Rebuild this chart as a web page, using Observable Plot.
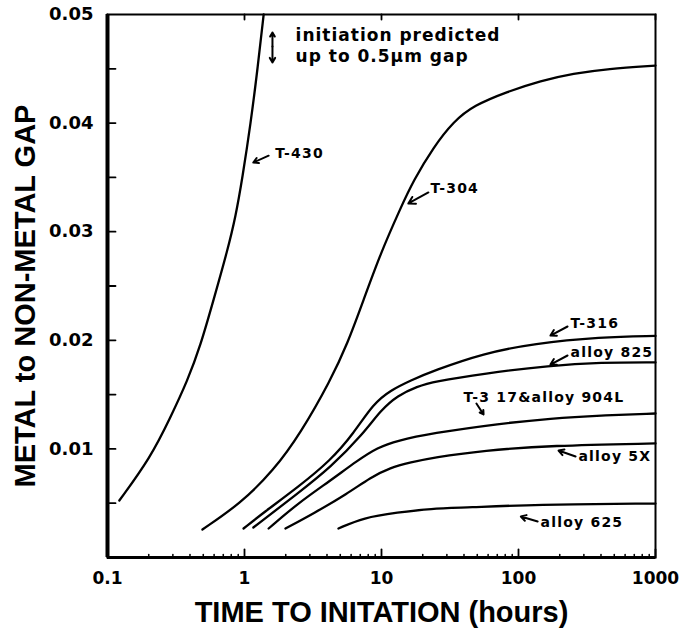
<!DOCTYPE html>
<html>
<head>
<meta charset="utf-8">
<script src="https://cdn.jsdelivr.net/npm/d3@7"></script>
<script src="https://cdn.jsdelivr.net/npm/@observablehq/plot@0.6"></script>
<style>
  html, body { margin: 0; padding: 0; background: #fff; }
</style>
</head>
<body>
<div id="chart"></div>
<script>
// ---- data ----
const xDomain = [0.1, 1000];
const yDomain = [0, 0.05];
const xTicks = [0.1, 1, 10, 100, 1000];
const yTicks = [0.01, 0.02, 0.03, 0.04, 0.05];
const yMinorTicks = [0.005, 0.01, 0.015, 0.02, 0.025, 0.03, 0.035, 0.04, 0.045];
const xMinorTicks = [0.2,0.3,0.4,0.5,0.6,0.7,0.8,0.9, 2,3,4,5,6,7,8,9, 20,30,40,50,60,70,80,90, 200,300,400,500,600,700,800,900];

const t430X = [0.122, 0.206, 0.288, 0.384, 0.477, 0.594, 0.752, 0.859, 0.967, 1.11, 1.24, 1.38];
const t430Y = [0.00525, 0.0092, 0.0129, 0.0163, 0.0195, 0.0237, 0.0283, 0.0313, 0.0350, 0.0400, 0.0448, 0.0500];

const t304X = [0.493, 0.935, 1.63, 2.56, 4.24, 5.65, 7.39, 9.84, 13.8, 17.1, 24.0, 33.6, 47.0, 83.2, 145, 252, 447, 1000];
const t304Y = [0.00258, 0.00497, 0.00801, 0.01142, 0.0163, 0.0197, 0.0237, 0.0280, 0.0322, 0.0347, 0.0378, 0.04015, 0.04162, 0.0429, 0.0439, 0.04457, 0.0450, 0.0453];

const t316X = [0.984, 1.38, 2.44, 4.25, 6.25, 8.75, 11.6, 16.3, 24.0, 55.6, 129, 397, 1000];
const t316Y = [0.00267, 0.00414, 0.00645, 0.00893, 0.01142, 0.01418, 0.01538, 0.0163, 0.0172, 0.0188, 0.0197, 0.0203, 0.0204];

const a825X = [1.16, 2.44, 4.25, 7.39, 9.84, 13.1, 18.3, 24.0, 55.6, 171, 397, 1000];
const a825Y = [0.00276, 0.00589, 0.00829, 0.01142, 0.01354, 0.01492, 0.01575, 0.0162, 0.01694, 0.01768, 0.01796, 0.01796];

const t317X = [1.50, 2.44, 4.25, 6.68, 9.35, 13.1, 22.8, 74.0, 171, 397, 1000];
const t317Y = [0.00267, 0.00497, 0.00709, 0.00893, 0.01013, 0.01077, 0.01142, 0.01234, 0.0128, 0.01308, 0.01326];

const a5xX = [1.99, 3.19, 5.65, 8.32, 11.6, 16.3, 24.0, 55.6, 171, 1000];
const a5xY = [0.00267, 0.00405, 0.00589, 0.00737, 0.00829, 0.00875, 0.00921, 0.00985, 0.01031, 0.0105];

const a625X = [4.85, 7.39, 13.1, 22.8, 42.5, 129, 1000];
const a625Y = [0.00267, 0.00368, 0.00414, 0.00451, 0.0046, 0.00488, 0.00497];

const seriesNames = ["T-430", "T-304", "T-316", "alloy 825", "T-317&alloy 904L", "alloy 5X", "alloy 625"];
const seriesXs = [t430X, t304X, t316X, a825X, t317X, a5xX, a625X];
const seriesYs = [t430Y, t304Y, t316Y, a825Y, t317Y, a5xY, a625Y];

// annotation labels (data coordinates)
const noteTexts = ["initiation predicted", "up to 0.5µm gap"];
const noteX = [2.36, 2.36];
const noteY = [0.04807, 0.04613];
const labelTexts = ["T-430", "T-304", "T-316", "alloy 825", "T-3 17&alloy 904L", "alloy 5X", "alloy 625"];
const labelX = [1.68, 22.8, 240, 240, 39.7, 274, 145];
const labelY = [0.0372, 0.03398, 0.02155, 0.01888, 0.01473, 0.0093, 0.00322];

// annotation arrows (data coordinates)
const arrowX1 = [1.60, 1.60, 1.50, 22.0, 228, 228, 49.3, 261, 138];
const arrowY1 = [0.04705, 0.04705, 0.0370, 0.03361, 0.02127, 0.0186, 0.01418, 0.0093, 0.00331];
const arrowX2 = [1.60, 1.60, 1.16, 15.7, 171, 171, 55.6, 196, 104];
const arrowY2 = [0.04834, 0.04558, 0.03637, 0.0326, 0.02044, 0.01777, 0.01317, 0.00985, 0.00378];

// ---- tables built from the arrays ----
const curves = seriesNames.flatMap((name, s) => seriesXs[s].map((x, i) => ({series: name, x, y: seriesYs[s][i]})));
const notes = noteTexts.map((t, i) => ({text: t, x: noteX[i], y: noteY[i]}));
const labels = labelTexts.map((t, i) => ({text: t, x: labelX[i], y: labelY[i]}));
const arrows = arrowX1.map((x1, i) => ({x1, y1: arrowY1[i], x2: arrowX2[i], y2: arrowY2[i]}));

const lineShape = { draw(ctx, l) { ctx.moveTo(0, 0); ctx.lineTo(0, -l); } };
const tickFont = "DejaVu Sans, sans-serif";
const titleFont = "Liberation Sans, Arial, sans-serif";

const chart = Plot.plot({
  width: 692,
  height: 629,
  marginLeft: 107,
  marginRight: 37,
  marginTop: 14,
  marginBottom: 72,
  style: { fontFamily: tickFont, fontWeight: "bold", color: "#000", background: "#fff" },
  x: { type: "log", domain: xDomain },
  y: { type: "linear", domain: yDomain },
  marks: [
    // frame
    Plot.frame({ stroke: "#000", strokeWidth: 2 }),
    Plot.ruleX([xDomain[0]], { stroke: "#000", strokeWidth: 4 }),
    Plot.ruleY([yDomain[0]], { stroke: "#000", strokeWidth: 3 }),
    // inward ticks
    Plot.vector(yMinorTicks, { x: xDomain[0], y: d => d, length: 8, rotate: 90, anchor: "start", shape: lineShape, stroke: "#000", strokeWidth: 1.8 }),
    Plot.vector(xTicks, { x: d => d, y: yDomain[0], length: 8, rotate: 0, anchor: "start", shape: lineShape, stroke: "#000", strokeWidth: 1.8 }),
    Plot.vector(xMinorTicks, { x: d => d, y: yDomain[0], length: 3, rotate: 0, anchor: "start", shape: lineShape, stroke: "#000", strokeWidth: 1.5 }),
    Plot.vector(xTicks, { x: d => d, y: yDomain[1], length: 5, rotate: 180, anchor: "start", shape: lineShape, stroke: "#000", strokeWidth: 1.8 }),
    // tick labels
    Plot.axisY({ ticks: yTicks, tickSize: 0, tickPadding: 14, tickFormat: d3.format(".2f"), fontSize: 18, fontFamily: tickFont, fontWeight: "bold", label: null }),
    Plot.axisX({ ticks: xTicks, tickSize: 0, tickPadding: 14, tickFormat: d => String(d), fontSize: 17, fontFamily: tickFont, fontWeight: "bold", label: null }),
    // axis titles
    Plot.axisY({ ticks: [], tickSize: 0, label: "METAL to NON-METAL GAP", labelAnchor: "center", labelArrow: "none", labelOffset: 93, fontSize: 29, fontFamily: titleFont, fontWeight: "bold" }),
    Plot.axisX({ ticks: [], tickSize: 0, label: "TIME TO INITATION (hours)", labelAnchor: "center", labelArrow: "none", labelOffset: 64, fontSize: 29, fontFamily: titleFont, fontWeight: "bold" }),
    // curves
    Plot.line(curves, { x: "x", y: "y", z: "series", stroke: "#000", strokeWidth: 2.3, curve: "basis" }),
    // annotations
    Plot.arrow(arrows, { x1: "x1", y1: "y1", x2: "x2", y2: "y2", stroke: "#000", strokeWidth: 2, headLength: 6, bend: 0 }),
    Plot.text(notes, { x: "x", y: "y", text: "text", fontSize: 17, textAnchor: "start", lineAnchor: "middle", fill: "#000", fontFamily: tickFont, fontWeight: "bold" }),
    Plot.text(labels, { x: "x", y: "y", text: "text", fontSize: 14, textAnchor: "start", lineAnchor: "middle", fill: "#000", fontFamily: tickFont, fontWeight: "bold" })
  ]
});

// letter spacing for the annotation texts (the reference uses widely spaced lettering)
const textGroups = chart.querySelectorAll('g[aria-label="text"]');
if (textGroups[0]) textGroups[0].style.letterSpacing = "1px";
if (textGroups[1]) textGroups[1].style.letterSpacing = "1.2px";
// nudge the y-axis title slightly downward, like the reference
const yLabel = chart.querySelector('g[aria-label="y-axis label"] text');
if (yLabel) {
  const t = yLabel.getAttribute("transform") || "";
  yLabel.setAttribute("transform", t + " translate(-10,0)");
}
document.getElementById("chart").appendChild(chart);
</script>
</body>
</html>
